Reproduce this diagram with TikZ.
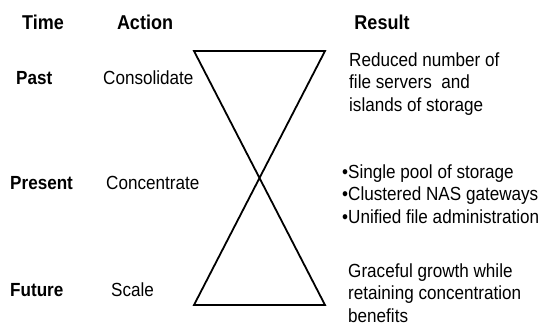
\documentclass[tikz,border=0pt]{standalone}
\usepackage{fontspec}
% a narrow sans face: Liberation Sans drawn slightly condensed
\setmainfont[FakeStretch=0.9]{Liberation Sans}
\begin{document}
\begin{tikzpicture}[x=1pt,y=-1pt,
  head/.style={font=\fontsize{20}{22}\selectfont\bfseries, inner sep=0pt},
  rowlab/.style={font=\fontsize{19}{21}\selectfont\bfseries, inner sep=0pt, anchor=west},
  act/.style={font=\fontsize{19}{21}\selectfont, inner sep=0pt, anchor=west},
  res/.style={font=\fontsize{19}{22.5}\selectfont, inner sep=0pt, align=left, anchor=west},
  glass/.style={line width=1.8pt, line join=miter}]
  \useasboundingbox (0,0) rectangle (539,331);
  % column headings
  \node[head] (hTime) at (43,22) {Time};
  \node[head] (hAction) at (145,22) {Action};
  \node[head] (hResult) at (382,22) {Result};
  % time periods
  \node[rowlab] (past) at (16,78) {Past};
  \node[rowlab] (present) at (10,183) {Present};
  \node[rowlab] (future) at (10,290) {Future};
  % actions
  \node[act] (consolidate) at (103,78) {Consolidate};
  \node[act] (concentrate) at (106,183) {Concentrate};
  \node[act] (scale) at (111,290) {Scale};
  % results
  \node[res] (r1) at (349,84) {Reduced number of\\file servers\ \ and\\islands of storage};
  \node[res] (r2) at (342,194) {•Single pool of storage\\•Clustered NAS gateways\\•Unified file administration};
  \node[res] (r3) at (348,293) {Graceful growth while\\retaining concentration\\benefits};
  % hourglass
  \draw[glass] (194,51) -- (325,51) -- (194,305) -- (325,305) -- cycle;
\end{tikzpicture}
\end{document}
